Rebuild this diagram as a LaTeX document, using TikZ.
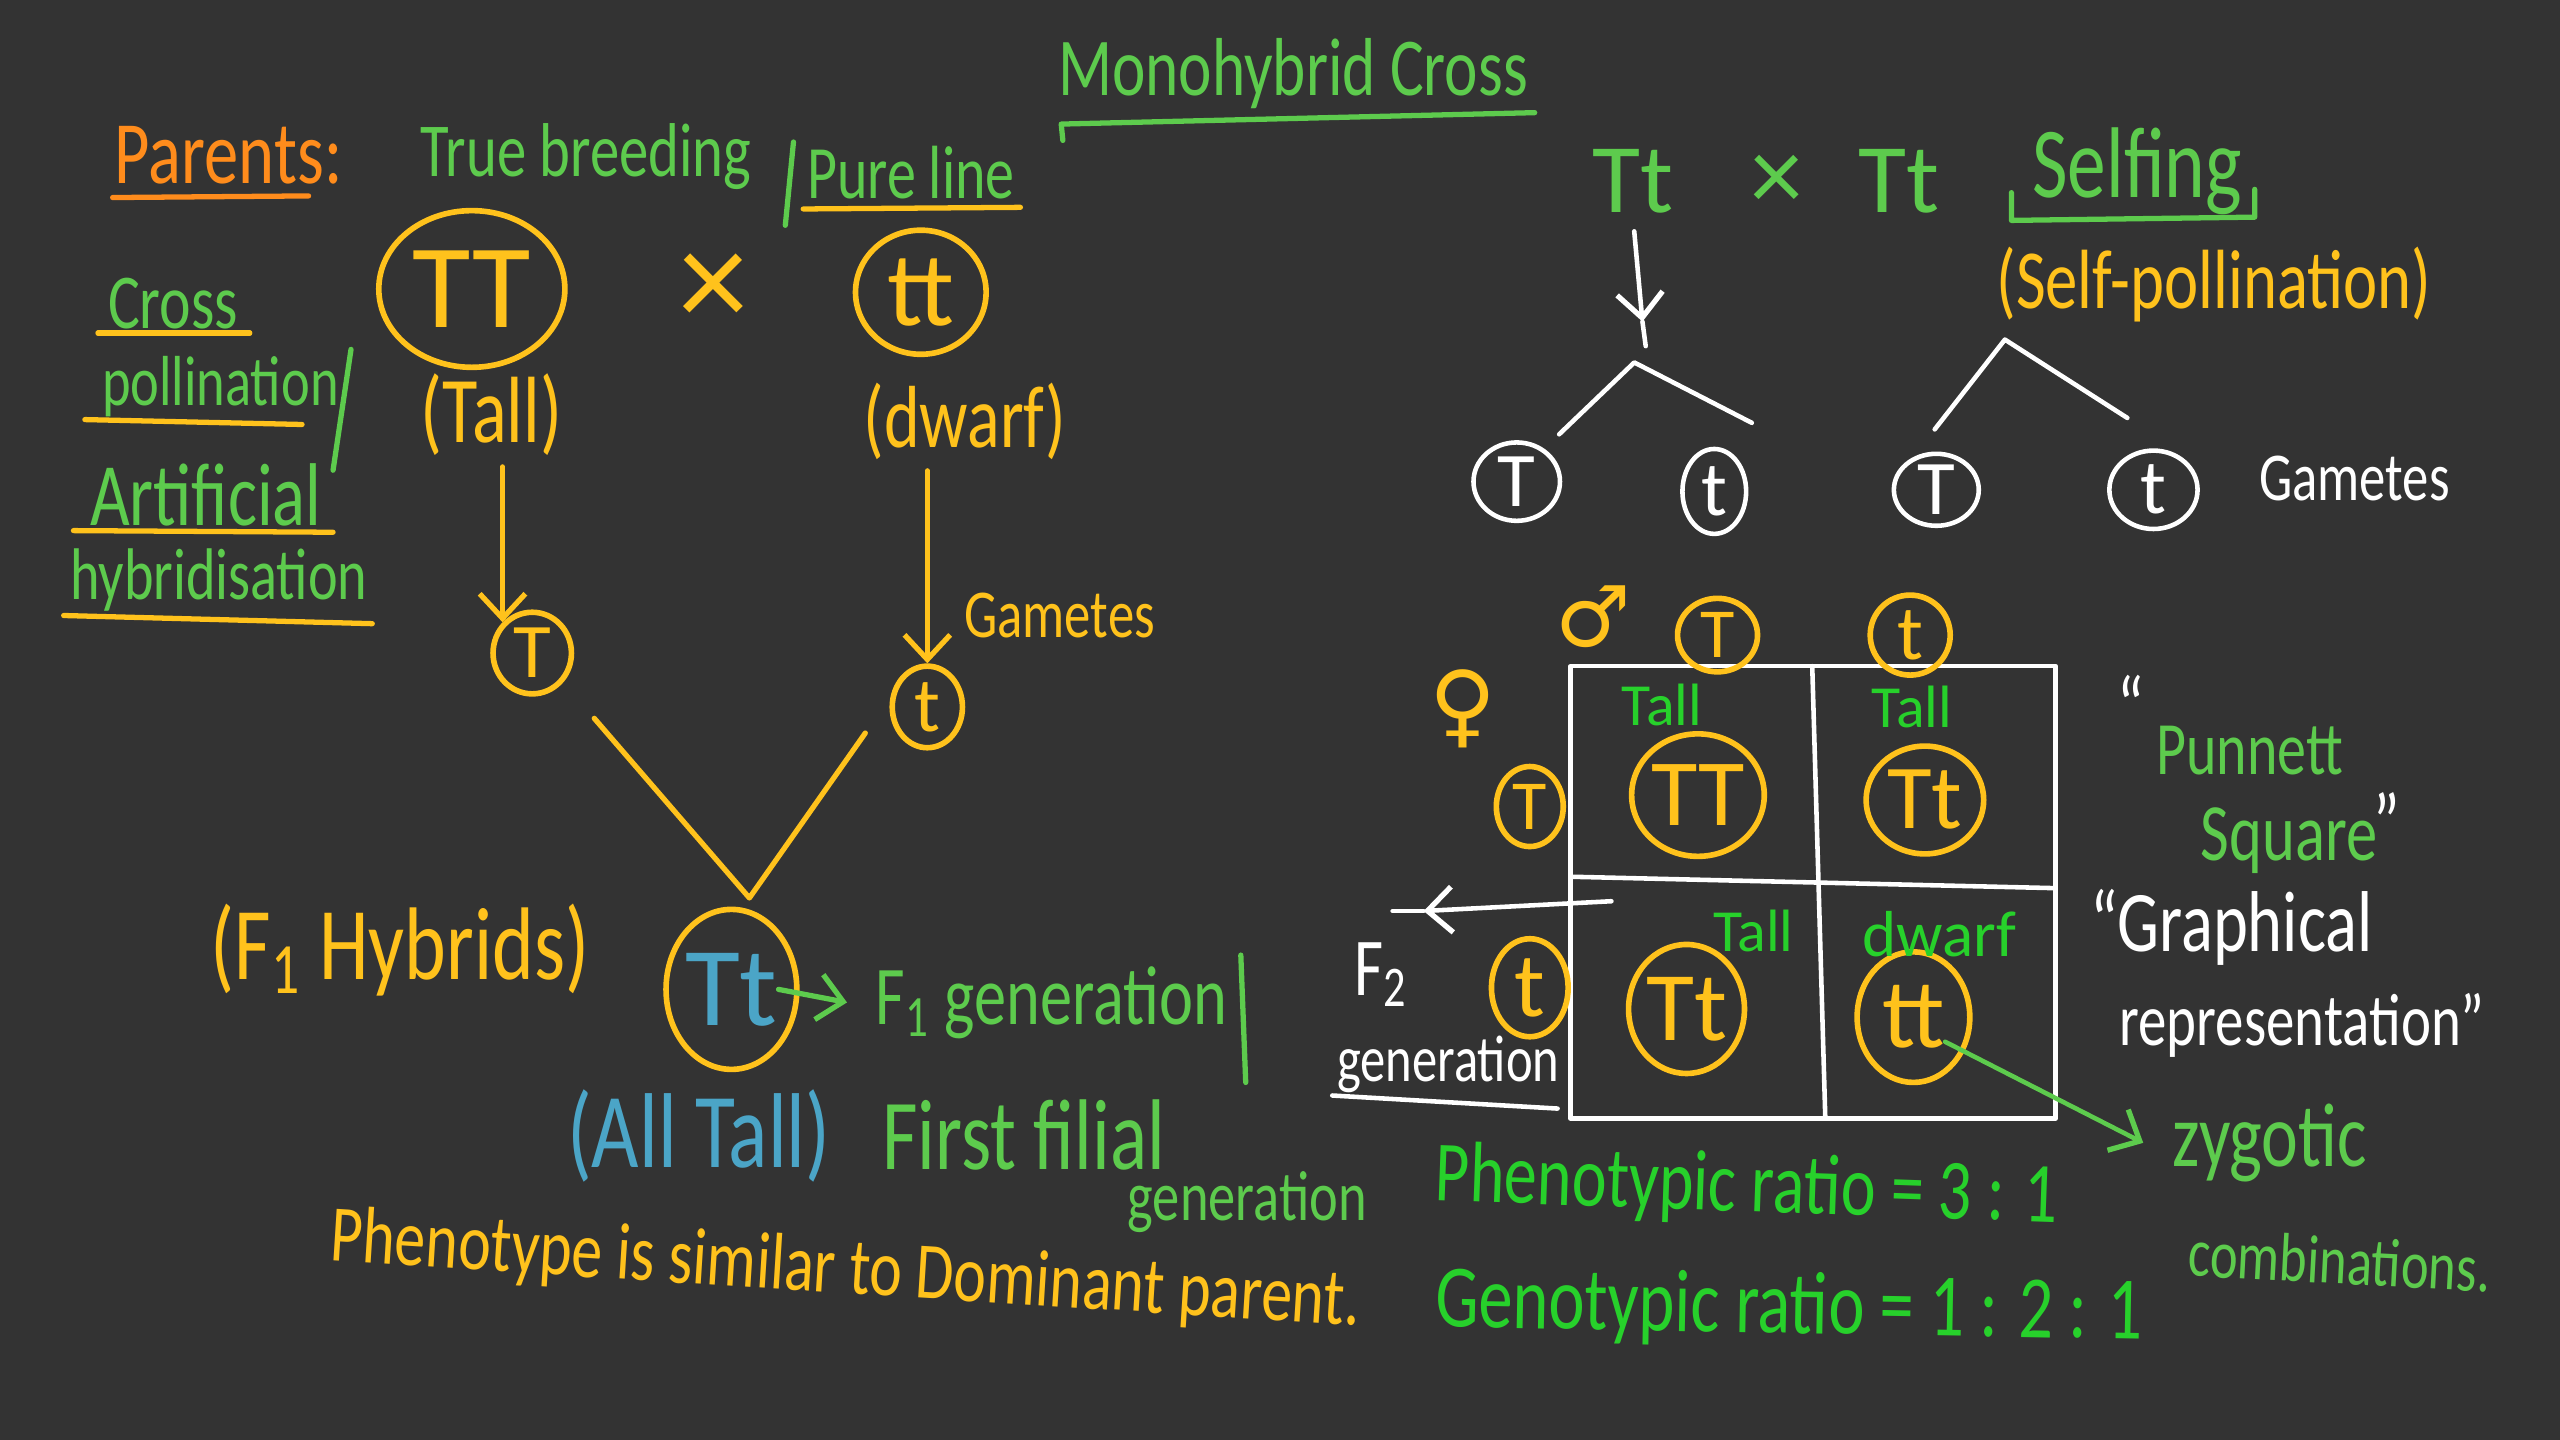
\documentclass[tikz,border=0pt]{standalone}
\usepackage{fontspec}
\setmainfont{Carlito}
\newfontfamily\symfont{DejaVu Sans}
\usetikzlibrary{arrows.meta,shapes.geometric}
\definecolor{bgc}{HTML}{333333}
\definecolor{gold}{HTML}{FFC21C}
\definecolor{orng}{HTML}{FF8C1C}
\definecolor{lgreen}{HTML}{5DCB4D}
\definecolor{bgreen}{HTML}{27D12B}
\definecolor{blu}{HTML}{4BA5C7}
\newcommand\hw[1]{\scalebox{1}[1.3]{#1}}
\newcommand\fs[1]{\fontsize{#1}{#1}\selectfont}
\begin{document}
\begin{tikzpicture}[x=0.016327cm, y=-0.016327cm, line cap=round, line join=round,
  lbl/.style={inner sep=0pt, text=#1},
  ring/.style={ellipse, draw=#1, line width=1.6pt, inner sep=0pt, text=#1},
  ink/.style={draw=#1, line width=1.5pt},
  barb/.style={-{Straight Barb[length=7pt,width=13pt,line width=1.5pt]}}]
\useasboundingbox (0,0) rectangle (1568,882);
\fill[bgc] (0,0) rectangle (1568,882);

% ---------- title ----------
\node[lbl=lgreen, font=\fs{18}] (title) at (792,45) {\hw{Monohybrid Cross}};
\draw[ink=lgreen] (651,86) -- (650,76) -- (940,69);

% ---------- parents header ----------
\node[lbl=orng, font=\fs{19.5}] (par) at (140,95) {\hw{Parents:}};
\draw[ink=orng] (69,121) -- (189,120);
\node[lbl=lgreen, font=\fs{16.7}] (tb) at (359,96) {\hw{True breeding}};
\draw[ink=lgreen] (486,87) -- (481,138);
\node[lbl=lgreen, font=\fs{16.5}] (pl) at (558,106) {\hw{Pure line}};
\draw[ink=gold] (492,128) -- (625,127);

% ---------- parents ----------
\node[ring=gold, minimum width=1.861cm, minimum height=1.567cm, font=\fs{34}] (TT) at (289,177) {TT};
\node[lbl=gold, font=\fs{40}] (cx) at (437,178) {×};
\node[ring=gold, minimum width=1.306cm, minimum height=1.241cm, font=\fs{30}] (tt) at (564,179) {tt};
\node[lbl=gold, font=\fs{20.6}] (tallL) at (301,254) {\hw{(Tall)}};
\node[lbl=gold, font=\fs{19.3}] (dwarfL) at (591,258) {\hw{(dwarf)}};

% ---------- left column ----------
\node[lbl=lgreen, font=\fs{17}] (cr) at (106,186) {\hw{Cross}};
\draw[ink=gold] (60,204) -- (153,204);
\node[lbl=lgreen, font=\fs{15.5}] (pol) at (135,237) {\hw{pollination}};
\draw[ink=gold] (52,257) -- (185,260);
\draw[ink=lgreen] (215,214) -- (204,288);
\node[lbl=lgreen, font=\fs{19.5}] (art) at (126,303) {\hw{Artificial}};
\draw[ink=gold] (45,325) -- (204,326);
\node[lbl=lgreen, font=\fs{16}] (hyb) at (134,355) {\hw{hybridisation}};
\draw[ink=gold] (39,377) -- (228,382);

% ---------- gametes (left) ----------
\node[ring=gold, minimum width=0.784cm, minimum height=0.816cm, font=\fs{22}] (gT) at (326,400) {T};
\node[ring=gold, minimum width=0.702cm, minimum height=0.816cm, font=\fs{22}] (gt) at (568,433) {t};
\draw[ink=gold, barb, shorten <=3pt] (tallL.south -| gT.north west) -- (gT.north west);
\draw[ink=gold, barb, shorten <=3pt] (dwarfL.south -| gt.north) -- (gt.north);
\node[lbl=gold, font=\fs{15}] (gam1) at (649,377) {\hw{Gametes}};

% ---------- F1 ----------
\node[ring=gold, minimum width=1.306cm, minimum height=1.6cm, font=\fs{32}, text=blu] (F1) at (448,606) {Tt};
\coordinate (v1) at (364,440);
\coordinate (vt) at (459,550);
\coordinate (v2) at (530,449);
\draw[ink=gold] (v1) -- (vt) -- (v2);
\node[lbl=gold, font=\fs{22.6}] (hybL) at (245,582) {\hw{(F\textsubscript{1} Hybrids)}};
\node[lbl=lgreen, font=\fs{18.3}, anchor=west] (f1g) at (536,614) {\hw{F\textsubscript{1} generation}};
\draw[ink=lgreen, barb] ([xshift=-6pt]F1.east) -- ([xshift=-8pt]f1g.west);
\draw[ink=lgreen] (760,585) -- (763,663);
\node[lbl=blu, font=\fs{23.3}] (allT) at (428,696) {\hw{(All Tall)}};
\node[lbl=lgreen, font=\fs{22}] (ff) at (627,695) {\hw{First filial}};
\node[lbl=lgreen, font=\fs{15.5}] (gen2) at (764,736) {\hw{generation}};
\node[lbl=gold, font=\fs{17.6}, rotate=-3.6] (phen) at (518,779) {\hw{Phenotype is similar to Dominant parent.}};

% ---------- selfing ----------
\node[lbl=lgreen, font=\fs{28}] (p1) at (1000,111) {Tt};
\node[lbl=lgreen, font=\fs{30}] (px2) at (1088,112) {×};
\node[lbl=lgreen, font=\fs{28}] (p2) at (1163,111) {Tt};
\node[lbl=lgreen, font=\fs{22}] (self) at (1309,105) {\hw{Selfing}};
\draw[ink=lgreen] (1232,118) -- (1232,135) -- (1381,133) -- (1381,116);
\node[lbl=gold, font=\fs{18.4}] (sp) at (1356,174) {\hw{(Self-pollination)}};
\coordinate (ah1) at (1006,197);
\coordinate (ae1) at (1008,212);
\coordinate (fk1) at (1001,222);
\coordinate (fk2) at (1228,208);
\coordinate (t1l) at (955,266);
\coordinate (t1r) at (1073,259);
\coordinate (t2l) at (1185,263);
\coordinate (t2r) at (1303,256);
\draw[ink=white, line width=1.3pt, barb, shorten <=5pt] (p1.south) -- (ah1);
\draw[ink=white, line width=1.3pt] (ah1) -- (ae1);
\draw[ink=white, line width=1.3pt] (t1l) -- (fk1) -- (t1r);
\draw[ink=white, line width=1.3pt] (t2l) -- (fk2) -- (t2r);
\node[ring=white, line width=1.3pt, minimum width=0.865cm, minimum height=0.784cm, font=\fs{22}] (w1) at (929,295) {T};
\node[ring=white, line width=1.3pt, minimum width=0.637cm, minimum height=0.849cm, font=\fs{22}] (w2) at (1050,301) {t};
\node[ring=white, line width=1.3pt, minimum width=0.849cm, minimum height=0.72cm, font=\fs{22}] (w3) at (1186,300) {T};
\node[ring=white, line width=1.3pt, minimum width=0.882cm, minimum height=0.784cm, font=\fs{22}] (w4) at (1319,300) {t};
\node[lbl=white, font=\fs{15}] (gam2) at (1442,293) {\hw{Gametes}};

% ---------- Punnett square ----------
\draw[ink=white, line width=1.3pt] (962,408) rectangle (1259,685);
\draw[ink=white, line width=1.3pt] (1110,408) -- (1118,685);
\draw[ink=white, line width=1.3pt] (962,537) -- (1259,544);
\node[lbl=gold, font=\symfont\fs{24}] (male) at (976,378) {♂};
\node[lbl=gold, font=\symfont\fs{26}] (fem) at (896,434) {♀};
\node[ring=gold, minimum width=0.8cm, minimum height=0.735cm, font=\fs{20}] (hT) at (1052,389) {T};
\node[ring=gold, minimum width=0.8cm, minimum height=0.8cm, font=\fs{22}] (ht) at (1170,389) {t};
\node[ring=gold, minimum width=0.669cm, minimum height=0.8cm, font=\fs{20}] (rT) at (937,494) {T};
\node[ring=gold, minimum width=0.767cm, minimum height=0.98cm, font=\fs{26}] (rt) at (937,605) {t};
\node[ring=gold, minimum width=1.29cm, minimum height=1.225cm, font=\fs{27}] (c1) at (1040,487) {TT};
\node[ring=gold, minimum width=1.176cm, minimum height=1.078cm, font=\fs{26}] (c2) at (1179,490) {Tt};
\node[ring=gold, minimum width=1.159cm, minimum height=1.29cm, font=\fs{28}] (c3) at (1033,618) {Tt};
\node[ring=gold, minimum width=1.127cm, minimum height=1.306cm, font=\fs{28}] (c4) at (1172,623) {tt};
\node[lbl=bgreen, font=\fs{17}] (tl1) at (1018,432) {Tall};
\node[lbl=bgreen, font=\fs{17}] (tl2) at (1171,433) {Tall};
\node[lbl=bgreen, font=\fs{17}] (tl3) at (1074,570) {Tall};
\node[lbl=bgreen, font=\fs{18.5}] (dw) at (1188,572) {dwarf};

% ---------- F2 ----------
\coordinate (wa0) at (987,552);
\coordinate (wah) at (872,558);
\coordinate (wa1) at (853,558);
\draw[ink=white, line width=1.3pt, barb] (wa0) -- (wah);
\draw[ink=white, line width=1.3pt] (wah) -- (wa1);
\node[lbl=white, font=\fs{18}] (F2) at (846,597) {\hw{F\textsubscript{2}}};
\node[lbl=white, font=\fs{14.4}] (gen3) at (887,652) {\hw{generation}};
\draw[ink=white, line width=1.3pt] (816,671) -- (954,679);

% ---------- right notes ----------
\node[lbl=lgreen, font=\fs{19.8}] (zyg) at (1390,700) {\hw{zygotic}};
\draw[ink=lgreen, line width=1.3pt, barb] ([xshift=9pt,yshift=-7pt]c4.center) -- ([xshift=-8pt]zyg.west);
\node[lbl=lgreen, font=\fs{15}, rotate=-3] (comb) at (1433,772) {\hw{combinations.}};
\node[lbl=white, font=\fs{18}] (q1) at (1305,432) {\hw{“}};
\node[lbl=lgreen, font=\fs{16.5}] (pun) at (1378,460) {\hw{Punnett}};
\node[lbl=lgreen, font=\fs{17.8}] (sq) at (1402,515) {\hw{Square}};
\node[lbl=white, font=\fs{18}] (q2) at (1462,503) {\hw{”}};
\node[lbl=white, font=\fs{18.9}] (gra) at (1367,568) {\hw{“Graphical}};
\node[lbl=white, font=\fs{16.2}] (rep) at (1410,628) {\hw{representation”}};

% ---------- ratios ----------
\node[lbl=bgreen, font=\fs{18.8}, rotate=-2] (pr) at (1070,728) {\hw{Phenotypic ratio = 3 : 1}};
\node[lbl=bgreen, font=\fs{19.5}, rotate=-1] (gr) at (1096,802) {\hw{Genotypic ratio = 1 : 2 : 1}};
\end{tikzpicture}
\end{document}
